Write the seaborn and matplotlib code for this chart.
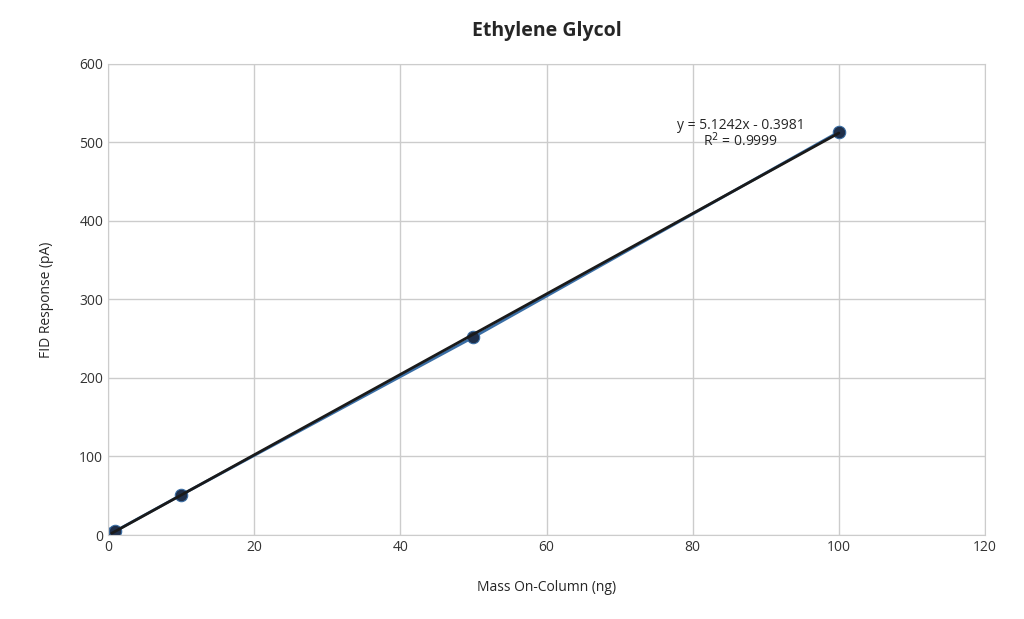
import numpy as np
import matplotlib
matplotlib.use('Agg')
import matplotlib.pyplot as plt
import seaborn as sns

# data
mass = [0.5, 1, 10, 50, 100]
response = [2.5, 5.0, 51.0, 252.0, 513.5]
slope, intercept = 5.1242, -0.3981

sns.set_style('whitegrid')
plt.rcParams['font.family'] = ['Open Sans', 'DejaVu Sans']

fig = plt.figure(figsize=(10.24, 6.19), dpi=100)
ax = fig.add_axes([0.1055, 0.1357, 0.8565, 0.761])

sns.lineplot(x=mass, y=response, ax=ax, color='#3a6ea5', linewidth=2,
             marker='o', markersize=9, markerfacecolor='#1f2f4a',
             markeredgecolor='#3a6ea5')
fit_x = np.array([mass[0], mass[-1]])
ax.plot(fit_x, slope * fit_x + intercept, color='#1a1a1a', linewidth=2)

ax.set_xlim(0, 120)
ax.set_ylim(0, 600)
ax.set_xticks(range(0, 121, 20))
ax.set_yticks(range(0, 601, 100))
ax.grid(color='#cccccc', linewidth=1)
for s in ax.spines.values():
    s.set_color('#cccccc')
ax.tick_params(labelsize=10, colors='#333333', length=0)

ax.set_title('Ethylene Glycol', fontsize=14, fontweight='bold', pad=20)
ax.set_xlabel('Mass On-Column (ng)', fontsize=10, labelpad=18)
ax.set_ylabel('FID Response (pA)', fontsize=10, labelpad=18)

ax.text(86.6, 517, 'y = 5.1242x - 0.3981', fontsize=10, ha='center')
ax.text(86.6, 495, 'R$^2$ = 0.9999', fontsize=10, ha='center')

fig.savefig('out.png', dpi=100)
